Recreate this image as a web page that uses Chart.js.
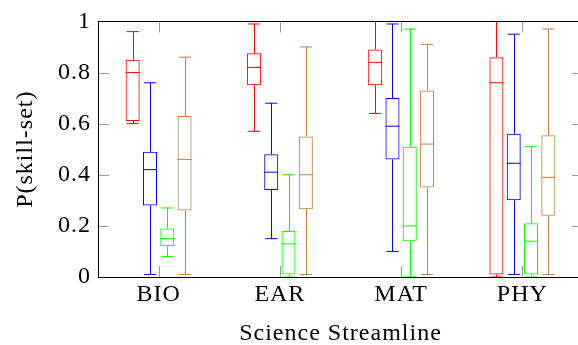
<!DOCTYPE html>
<html>
<head>
<meta charset="utf-8">
<script src="https://cdn.jsdelivr.net/npm/chart.js@4/dist/chart.umd.min.js"></script>
<style>
  html, body { margin: 0; padding: 0; background: #fff; overflow: hidden; }
  #wrap { width: 578px; height: 345px; overflow: hidden; }
</style>
</head>
<body>
<div id="wrap"><canvas id="chart" width="590" height="345"></canvas></div>
<script>
// Categories on the x axis
const categories = ['BIO', 'EAR', 'MAT', 'PHY'];

// Box-plot statistics per series (one value per category)
const redLow  = [0.60, 0.57, 0.64, 0.00];
const redQ1   = [0.61, 0.75, 0.75, 0.01];
const redMed  = [0.80, 0.82, 0.84, 0.76];
const redQ3   = [0.85, 0.875, 0.89, 0.86];
const redHigh = [0.96, 0.99, 1.00, 1.00];

const blueLow  = [0.01, 0.15, 0.10, 0.01];
const blueQ1   = [0.28, 0.34, 0.46, 0.30];
const blueMed  = [0.42, 0.41, 0.59, 0.445];
const blueQ3   = [0.49, 0.48, 0.70, 0.56];
const blueHigh = [0.76, 0.68, 0.99, 0.95];

const greenLow  = [0.08, 0.00, 0.00, 0.00];
const greenQ1   = [0.12, 0.01, 0.14, 0.01];
const greenMed  = [0.15, 0.13, 0.20, 0.14];
const greenQ3   = [0.19, 0.18, 0.51, 0.21];
const greenHigh = [0.27, 0.40, 0.97, 0.51];

const brownLow  = [0.01, 0.01, 0.01, 0.01];
const brownQ1   = [0.26, 0.265, 0.35, 0.24];
const brownMed  = [0.46, 0.40, 0.52, 0.39];
const brownQ3   = [0.63, 0.55, 0.73, 0.555];
const brownHigh = [0.86, 0.90, 0.91, 0.97];

// y tick values
const yTicks = [0, 0.2, 0.4, 0.6, 0.8, 1];

const FONT = 'Liberation Serif';
const FSIZE = 24;

// build a floating-bar dataset (box = q1..q3), whiskers + median added by plugin
function boxSeries(color, low, q1, med, q3, high) {
    return {
        data: q1.map((v, i) => [v, q3[i]]),
        low: low, med: med, high: high,
        backgroundColor: 'rgba(0,0,0,0)',
        borderColor: color,
        borderWidth: 1,
        borderSkipped: false
    };
}

// Draws median, whiskers and caps for every box using the y scale
const boxWhiskers = {
    id: 'boxWhiskers',
    afterDatasetsDraw(chart) {
        const ctx = chart.ctx;
        const y = chart.scales.y;
        ctx.save();
        ctx.lineWidth = 1;
        chart.data.datasets.forEach((ds, i) => {
            const meta = chart.getDatasetMeta(i);
            ctx.strokeStyle = ds.borderColor;
            meta.data.forEach((bar, j) => {
                const x = Math.round(bar.x) + 0.5;
                const half = bar.width / 2;
                const cap = bar.width * 0.43;
                const yLow = y.getPixelForValue(ds.low[j]);
                const yHigh = y.getPixelForValue(ds.high[j]);
                const yQ1 = y.getPixelForValue(ds.data[j][0]);
                const yQ3 = y.getPixelForValue(ds.data[j][1]);
                const yMed = y.getPixelForValue(ds.med[j]);
                ctx.beginPath();
                // median
                ctx.moveTo(bar.x - half, yMed);
                ctx.lineTo(bar.x + half, yMed);
                // whiskers
                ctx.moveTo(x, yQ3);
                ctx.lineTo(x, yHigh);
                ctx.moveTo(x, yQ1);
                ctx.lineTo(x, yLow);
                // caps
                ctx.moveTo(bar.x - cap, yHigh);
                ctx.lineTo(bar.x + cap, yHigh);
                ctx.moveTo(bar.x - cap, yLow);
                ctx.lineTo(bar.x + cap, yLow);
                ctx.stroke();
            });
        });
        ctx.restore();
    }
};

// Frame and inner tick marks (pgfplots style)
const frameTicks = {
    id: 'frameTicks',
    beforeLayout(chart) {
        // the reference text is set a bit wider than Times
        chart.ctx.letterSpacing = '1px';
    },
    beforeDatasetsDraw(chart) {
        const ctx = chart.ctx;
        const a = chart.chartArea;
        const x = chart.scales.x, y = chart.scales.y;
        const len = 11;
        ctx.save();
        ctx.strokeStyle = '#999';
        ctx.lineWidth = 1;
        ctx.beginPath();
        x.ticks.forEach((t, i) => {
            const px = Math.round(x.getPixelForTick(i)) + 0.5;
            ctx.moveTo(px, a.top); ctx.lineTo(px, a.top + len);
            ctx.moveTo(px, a.bottom); ctx.lineTo(px, a.bottom - len);
        });
        y.ticks.forEach((t, i) => {
            const py = Math.round(y.getPixelForTick(i)) + 0.5;
            ctx.moveTo(a.left, py); ctx.lineTo(a.left + len, py);
            ctx.moveTo(a.right, py); ctx.lineTo(a.right - len, py);
        });
        ctx.stroke();
        ctx.restore();
    },
    afterDraw(chart) {
        const ctx = chart.ctx;
        const a = chart.chartArea;
        ctx.save();
        ctx.strokeStyle = '#000';
        ctx.lineWidth = 1;
        ctx.strokeRect(Math.round(a.left) + 0.5, Math.round(a.top) + 0.5,
            Math.round(a.right - a.left), Math.round(a.bottom - a.top));
        ctx.restore();
    }
};

const ctx = document.getElementById('chart').getContext('2d');
new Chart(ctx, {
    type: 'bar',
    data: {
        labels: categories,
        datasets: [
            boxSeries('#ff0000', redLow, redQ1, redMed, redQ3, redHigh),
            boxSeries('#0000ff', blueLow, blueQ1, blueMed, blueQ3, blueHigh),
            boxSeries('#00ff00', greenLow, greenQ1, greenMed, greenQ3, greenHigh),
            boxSeries('#bf8040', brownLow, brownQ1, brownMed, brownQ3, brownHigh)
        ]
    },
    options: {
        responsive: false,
        animation: false,
        categoryPercentage: 0.571,
        barPercentage: 0.81,
        layout: { padding: { left: 0, right: 7, top: 19, bottom: 0 } },
        plugins: {
            legend: { display: false },
            tooltip: { enabled: false }
        },
        scales: {
            x: {
                grid: { display: false, drawTicks: false },
                border: { display: false },
                ticks: { color: '#000', padding: 3, font: { family: FONT, size: FSIZE } },
                title: {
                    display: true,
                    text: 'Science Streamline',
                    color: '#000',
                    padding: { top: 0, bottom: -3 },
                    font: { family: FONT, size: FSIZE }
                },
                afterFit(scale) { scale.height = 68; }
            },
            y: {
                min: 0,
                max: 1,
                grid: { display: false, drawTicks: false },
                border: { display: false },
                afterBuildTicks(scale) { scale.ticks = yTicks.map(v => ({ value: v })); },
                ticks: {
                    color: '#000',
                    padding: 7,
                    font: { family: FONT, size: FSIZE },
                    callback: v => String(v)
                },
                title: {
                    display: true,
                    text: 'P(skill-set)',
                    color: '#000',
                    padding: { top: 11, bottom: 0 },
                    font: { family: FONT, size: FSIZE }
                },
                afterFit(scale) { scale.width = 98; }
            }
        }
    },
    plugins: [frameTicks, boxWhiskers]
});
</script>
</body>
</html>
